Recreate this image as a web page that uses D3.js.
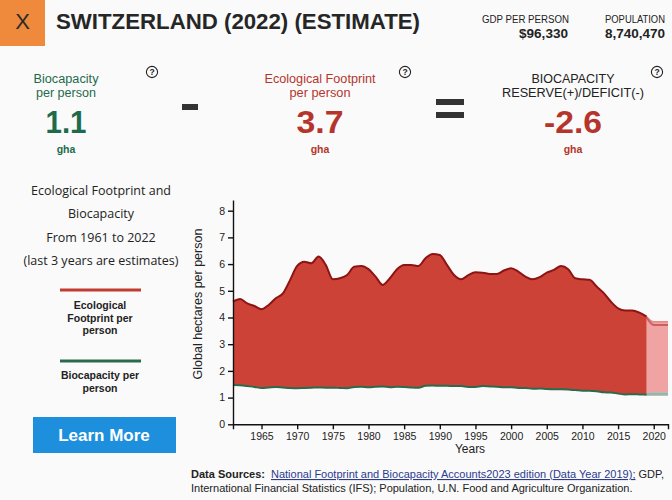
<!DOCTYPE html>
<html>
<head>
<meta charset="utf-8">
<script src="https://cdn.jsdelivr.net/npm/d3@7"></script>
<style>
  html, body { margin: 0; padding: 0; background: #fafafa; }
  svg { display: block; }
</style>
</head>
<body>
<svg id="chart" width="672" height="500"></svg>
<script>
// ---------- DATA ----------
const years = [1961,1962,1963,1964,1965,1966,1967,1968,1969,1970,
  1971,1972,1973,1974,1975,1976,1977,1978,1979,1980,
  1981,1982,1983,1984,1985,1986,1987,1988,1989,1990,
  1991,1992,1993,1994,1995,1996,1997,1998,1999,2000,
  2001,2002,2003,2004,2005,2006,2007,2008,2009,2010,
  2011,2012,2013,2014,2015,2016,2017,2018,2019];
const footprint = [4.59,4.69,4.53,4.43,4.31,4.47,4.72,4.90,5.40,5.93,
  6.09,6.03,6.28,5.97,5.43,5.47,5.59,5.90,5.93,5.81,
  5.53,5.22,5.47,5.81,5.97,5.97,5.93,6.22,6.38,6.34,
  5.97,5.59,5.43,5.59,5.69,5.68,5.63,5.63,5.76,5.84,
  5.72,5.53,5.43,5.51,5.68,5.78,5.93,5.81,5.47,5.43,
  5.41,5.16,4.91,4.59,4.34,4.26,4.26,4.18,4.03];
const biocapacity = [1.47,1.46,1.43,1.40,1.36,1.38,1.40,1.38,1.36,1.35,
  1.36,1.37,1.38,1.37,1.37,1.36,1.35,1.40,1.41,1.39,
  1.41,1.42,1.39,1.41,1.40,1.38,1.37,1.44,1.45,1.44,
  1.44,1.43,1.43,1.40,1.40,1.43,1.42,1.41,1.39,1.39,
  1.36,1.36,1.33,1.34,1.32,1.31,1.31,1.30,1.28,1.26,
  1.26,1.24,1.20,1.19,1.15,1.12,1.13,1.12,1.11];
const estYears = [2019,2020,2021,2022];
const estFootprint = [4.00,3.72,3.72,3.72];
const estFootprintUpper = [4.03,3.84,3.84,3.84];
const estBioUpper = [1.20,1.20,1.20,1.20];
const estBioLower = [1.07,1.07,1.07,1.07];
const xTicks = [1965,1970,1975,1980,1985,1990,1995,2000,2005,2010,2015,2020];
const yTicks = [0,1,2,3,4,5,6,7,8];

const country = "SWITZERLAND (2022) (ESTIMATE)";
const gdp = "$96,330";
const population = "8,740,470";
const bioValue = "1.1";
const efValue = "3.7";
const reserveValue = "-2.6";

// ---------- COLORS ----------
const RED = "#cc4236", RED_DARK = "#8e1414", GREEN = "#2b6a4d", TXT_RED = "#b5352c", TXT_GREEN = "#1e6b4c";
const SANS = "Liberation Sans, Arial, sans-serif";

const svg = d3.select("#chart");
svg.append("rect").attr("width", 672).attr("height", 500).attr("fill", "#fafafa");

// ---------- HEADER ----------
svg.append("rect").attr("x", 0).attr("y", 0).attr("width", 45).attr("height", 46).attr("fill", "#ef8a3c");
svg.append("text").attr("x", 22.5).attr("y", 29).attr("text-anchor", "middle")
  .attr("font-family", SANS).attr("font-size", 22).attr("fill", "#2a2a2a").text("X");
svg.append("text").attr("x", 56).attr("y", 29).attr("font-family", SANS)
  .attr("font-weight", "bold").attr("font-size", 22.5).attr("fill", "#262626")
  .attr("textLength", 364).attr("lengthAdjust", "spacingAndGlyphs").text(country);

const txt = (x, y, t, anchor, color, size, bold, len) => {
  const el = svg.append("text").attr("x", x).attr("y", y).attr("text-anchor", anchor)
    .attr("font-family", SANS).attr("font-size", size)
    .attr("font-weight", bold ? "bold" : "normal").attr("fill", color).text(t);
  if (len) el.attr("textLength", len).attr("lengthAdjust", "spacingAndGlyphs");
  return el;
};
txt(569, 23, "GDP PER PERSON", "end", "#222", 10, false, 87);
txt(568, 38, gdp, "end", "#222", 12.5, true, 49);
txt(605, 23, "POPULATION", "start", "#222", 10, false, 60);
txt(605, 38, population, "start", "#222", 12.5, true, 60);

// ---------- SUMMARY ROW ----------
txt(66, 83, "Biocapacity", "middle", TXT_GREEN, 12, false, 65);
txt(66, 97, "per person", "middle", TXT_GREEN, 12, false, 60);
txt(66, 133, bioValue, "middle", TXT_GREEN, 32, true, 41);
txt(66, 153, "gha", "middle", TXT_GREEN, 10.5, true);

txt(320, 83, "Ecological Footprint", "middle", TXT_RED, 12, false, 111);
txt(320, 97, "per person", "middle", TXT_RED, 12, false, 61);
txt(320, 133, efValue, "middle", TXT_RED, 32, true, 47);
txt(320, 153, "gha", "middle", TXT_RED, 10.5, true);

txt(573, 83, "BIOCAPACITY", "middle", "#222", 12, false, 83);
txt(573, 97, "RESERVE(+)/DEFICIT(-)", "middle", "#222", 12, false, 142);
txt(573, 133, reserveValue, "middle", TXT_RED, 32, true, 58);
txt(573, 153, "gha", "middle", TXT_RED, 10.5, true);

// minus and equals signs
svg.append("rect").attr("x", 182).attr("y", 104).attr("width", 16).attr("height", 6).attr("fill", "#333");
svg.append("rect").attr("x", 436).attr("y", 99).attr("width", 28).attr("height", 6).attr("fill", "#333");
svg.append("rect").attr("x", 436).attr("y", 112).attr("width", 28).attr("height", 6).attr("fill", "#333");

// question icons
[[152, 72], [405, 72], [657, 72]].forEach(([cx, cy]) => {
  svg.append("circle").attr("cx", cx).attr("cy", cy).attr("r", 5.6).attr("fill", "none").attr("stroke", "#222").attr("stroke-width", 1.1);
  svg.append("text").attr("x", cx).attr("y", cy + 3.2).attr("text-anchor", "middle")
    .attr("font-family", SANS).attr("font-size", 8.5).attr("font-weight", "bold").attr("fill", "#222").text("?");
});

// ---------- LEFT PANEL ----------
const leftFont = "Open Sans, Noto Sans, sans-serif";
[["Ecological Footprint and", 195], ["Biocapacity", 218], ["From 1961 to 2022", 242], ["(last 3 years are estimates)", 265]]
  .forEach(([t, y]) => svg.append("text").attr("x", 101).attr("y", y).attr("text-anchor", "middle")
    .attr("font-family", leftFont).attr("font-size", 12.5).attr("fill", "#222").text(t));

svg.append("line").attr("x1", 60).attr("x2", 141).attr("y1", 290).attr("y2", 290).attr("stroke", "#c23b30").attr("stroke-width", 3);
[["Ecological", 309], ["Footprint per", 322], ["person", 334]].forEach(([t, y]) =>
  txt(100, y, t, "middle", "#222", 10.5, true));
svg.append("line").attr("x1", 60).attr("x2", 141).attr("y1", 361).attr("y2", 361).attr("stroke", GREEN).attr("stroke-width", 3);
[["Biocapacity per", 379], ["person", 392]].forEach(([t, y]) =>
  txt(100, y, t, "middle", "#222", 10.5, true));

svg.append("rect").attr("x", 33).attr("y", 417).attr("width", 143).attr("height", 36).attr("fill", "#1e8fdc");
txt(104, 441, "Learn More", "middle", "#fff", 17, true);

// ---------- CHART ----------
const x = d3.scaleLinear().domain([1961, 2022]).range([233, 668]);
const y = d3.scaleLinear().domain([0, 8.4]).range([424.3, 200]);
const curve = d3.curveMonotoneX;

const hist = years.map((yr, i) => ({ yr, ef: footprint[i], bc: biocapacity[i] }));
const est = estYears.map((yr, i) => ({ yr, ef: estFootprint[i], up: estFootprintUpper[i], bu: estBioUpper[i], bl: estBioLower[i] }));

// estimate areas
svg.append("path").datum(est).attr("fill", "#f0a3a3")
  .attr("d", d3.area().x(d => x(d.yr)).y0(d => y(d.bu)).y1(d => y(d.up)).curve(curve));
svg.append("path").datum(est).attr("fill", "none").attr("stroke", "#e08a8a").attr("stroke-width", 1.5)
  .attr("d", d3.line().x(d => x(d.yr)).y(d => y(d.up)).curve(curve));
svg.append("path").datum(est).attr("fill", "none").attr("stroke", "#cf5f5f").attr("stroke-width", 2)
  .attr("d", d3.line().x(d => x(d.yr)).y(d => y(d.ef)).curve(curve));
svg.append("path").datum(est).attr("fill", "#9db3a7")
  .attr("d", d3.area().x(d => x(d.yr)).y0(d => y(d.bl)).y1(d => y(d.bu)).curve(curve));

// historical area
svg.append("path").datum(hist).attr("fill", RED)
  .attr("d", d3.area().x(d => x(d.yr)).y0(d => y(d.bc)).y1(d => y(d.ef)).curve(curve));
svg.append("path").datum(hist).attr("fill", "none").attr("stroke", RED_DARK).attr("stroke-width", 2)
  .attr("d", d3.line().x(d => x(d.yr)).y(d => y(d.ef)).curve(curve));
svg.append("path").datum(hist).attr("fill", "none").attr("stroke", GREEN).attr("stroke-width", 2)
  .attr("d", d3.line().x(d => x(d.yr)).y(d => y(d.bc)).curve(curve));

// axes
const xAxis = svg.append("g").attr("transform", "translate(0,424.3)")
  .call(d3.axisBottom(x).tickValues(xTicks).tickFormat(d3.format("d")).tickSize(5).tickSizeOuter(5));
const yAxis = svg.append("g").attr("transform", "translate(233,0)")
  .call(d3.axisLeft(y).tickValues(yTicks).tickSize(5).tickSizeOuter(0));
[xAxis, yAxis].forEach(g => {
  g.selectAll("path, line").attr("stroke", "#111").attr("stroke-width", 1.4);
  g.selectAll("text").attr("font-family", SANS).attr("font-size", 10.5).attr("fill", "#222");
});

svg.append("text").attr("transform", "translate(202,304) rotate(-90)").attr("text-anchor", "middle")
  .attr("font-family", SANS).attr("font-size", 12.5).attr("fill", "#222").text("Global hectares per person");
txt(470, 453, "Years", "middle", "#222", 12, false);

// ---------- SOURCES ----------
const src = svg.append("text").attr("x", 191).attr("y", 478).attr("font-family", SANS)
  .attr("font-size", 11).attr("fill", "#222");
src.append("tspan").attr("font-weight", "bold").text("Data Sources:");
src.append("tspan").attr("dx", 6).attr("fill", "#2b3a8f").attr("text-decoration", "underline")
  .text("National Footprint and Biocapacity Accounts2023 edition (Data Year 2019);");
src.append("tspan").text(" GDP,");
txt(191, 492, "International Financial Statistics (IFS); Population, U.N. Food and Agriculture Organization.", "start", "#222", 11, false);
</script>
</body>
</html>
